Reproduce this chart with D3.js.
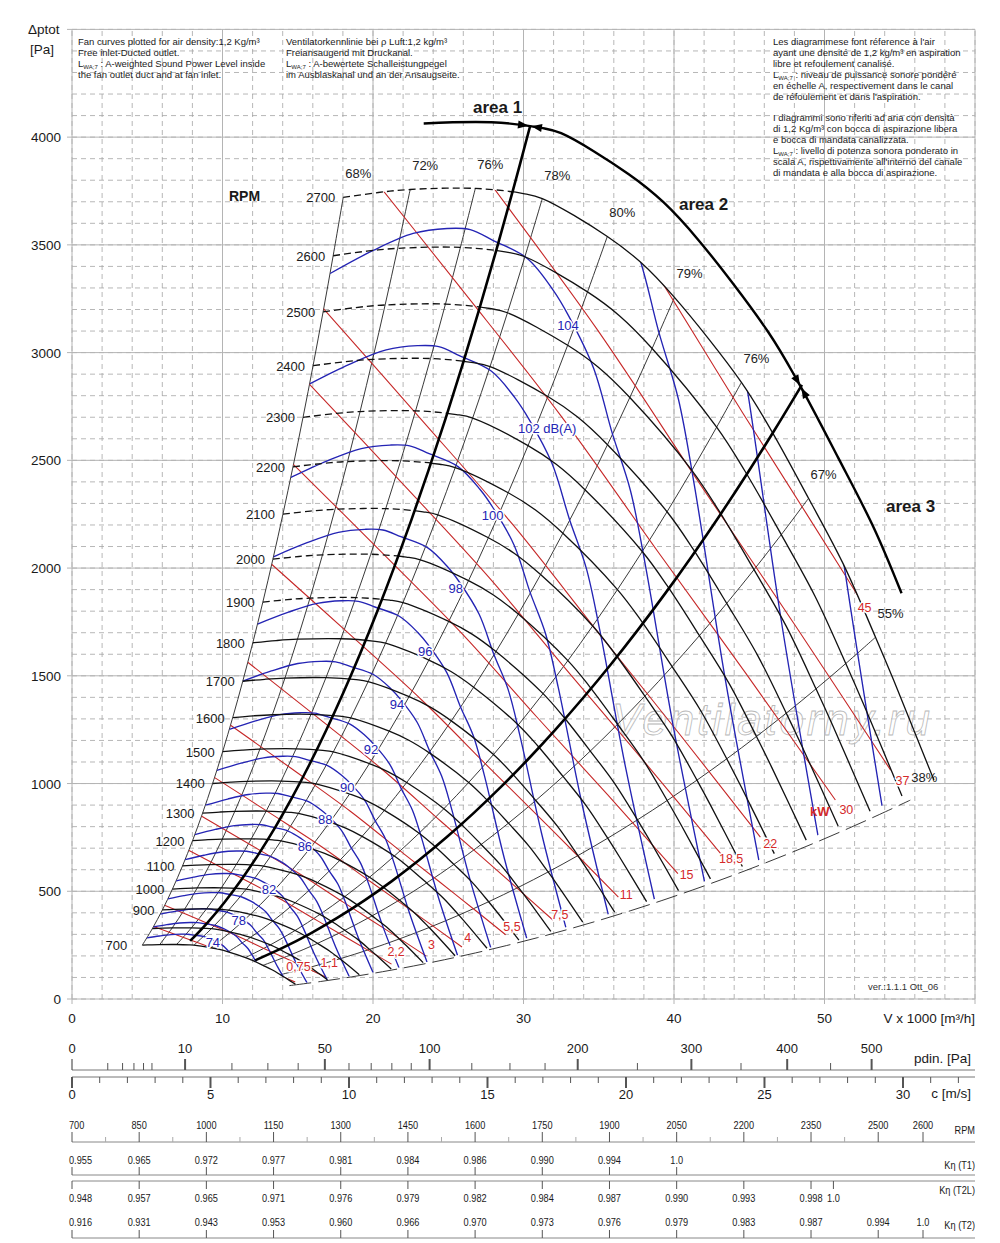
<!DOCTYPE html>
<meta charset="utf-8">
<style>
body { margin: 0; background: #fff; }
svg text { font-family: "Liberation Sans", Arial, sans-serif; fill: #1a1a1a; }
.grid-major { stroke: #b4b4b4; stroke-width: 1; }
.grid-minor { stroke: #a4a4a4; stroke-width: 0.8; stroke-dasharray: 5,4; }
.rpm { fill: none; stroke: #111; stroke-width: 1.3; }
.rpm.dash { stroke-dasharray: 7,4; }
.eff { fill: none; stroke: #222; stroke-width: 0.9; }
.kw { fill: none; stroke: #c62828; stroke-width: 1.1; }
.db { fill: none; stroke: #2424b4; stroke-width: 1.35; }
.thick { fill: none; stroke: #000; stroke-width: 2.6; }
.halo { paint-order: stroke; stroke: #fff; stroke-width: 3px; stroke-linejoin: round; }
.scale line { stroke: #555; }
</style>
<body>
<script src="https://d3js.org/d3.v7.min.js"></script>
<script>
var width = 1000,
    height = 1243;

// fan curve at 2700 rpm: [V x1000 m3/h, Pa]
var curve2700 = [[18.02,3720],[20.35,3743],[22.47,3757],[26.8,3762],[29.99,3738],[31.25,3715],
  [35.57,3539],[37.77,3420],[40.03,3256],[44.48,2862],[46.41,2645],[48.94,2324],
  [51.26,2017],[53.39,1679],[54.59,1480],[57.27,1016]];
var rpmList = [700,800,900,1000,1100,1200,1300,1400,1500,1600,1700,1800,1900,2000,
  2100,2200,2300,2400,2500,2600,2700];
var rpmUnlabelled = [800];
var dashedFromRpm = 1900;

// efficiency lines: flow where each one meets the 2700 rpm curve
var effTopV = [18.02,22.47,26.8,31.25,35.57,40.03,44.48,48.94,53.39];
var effLabels = ["68%","72%","76%","78%","80%","79%","76%","67%","55%"];
var limit38 = [55.7, 923];

// 22 kW line, other kW lines follow it
var kw22 = [[16.69,3205],[23.14,2695],[29.32,2199],[35.11,1688],[40.43,1224],[45.74,751]];
var kwLevels = [0.75,1.1,2.2,3,4,5.5,7.5,11,15,18.5,22,30,37,45];
var kwLabels = ["0,75","1,1","2,2","3","4","5,5","7,5","11","15","18,5","22","30","37","45"];
var kwLabelAt = [46.4, 715];

// 104 dB(A) line
var db104 = [[17.15,3367],[20.01,3474],[22.67,3553],[24.93,3576],[26.46,3571],[27.99,3520],
  [30.25,3437],[31.98,3289],[32.98,3173],[34.64,2931],[35.9,2625],[37.1,2361],
  [38.1,2013],[39.96,1262],[42.09,524]];
var dbLevels = [74,76,78,80,82,84,86,88,90,92,94,96,98,100,102,104,106,108,110];
var dbLabelled = [74,78,82,86,88,90,92,94,96,98,100,102,104];
var dbLabelAt = [32.9, 3126];
var dbStep = 1.086;   // flow ratio between neighbouring 2 dB lines

var area1 = {top: [30.45, 4054], low: 7.85};
var area2 = {top: [48.5, 2850], low: 12.17};
var envelopeRpm = 2808, envelopeFrom = 22.47, envelopeTo = 53.0;

var yTicks = [0,500,1000,1500,2000,2500,3000,3500,4000];
var xTicks = [0,10,20,30,40,50];

var rho = 1.2;
var pdinMajor = [0,10,50,100,200,300,400,500];
var pdinMinor = [1,2,3,4,5,20,30,40,60,70,80,90,125,150,175,250,350,450];
var cMajor = [0,5,10,15,20,25,30];

var tableRpm = [700,850,1000,1150,1300,1450,1600,1750,1900,2050,2200,2350,2500,2600];
var kT1 = ["0.955","0.965","0.972","0.977","0.981","0.984","0.986","0.990","0.994","1.0"];
var kT2LRpm = [700,850,1000,1150,1300,1450,1600,1750,1900,2050,2200,2350,2400];
var kT2L = ["0.948","0.957","0.965","0.971","0.976","0.979","0.982","0.984","0.987","0.990","0.993","0.998","1.0"];
var kT2 = ["0.916","0.931","0.943","0.953","0.960","0.966","0.970","0.973","0.976","0.979","0.983","0.987","0.994","1.0"];

var notesEN = ["Fan curves plotted for air density:1,2 Kg/m³", "Free inlet-Ducted outlet.",
  "§ : A-weighted Sound Power Level inside", "the fan outlet duct and at fan inlet."];
var notesDE = ["Ventilatorkennlinie bei ρ Luft:1,2 kg/m³", "Freiansaugend mit Druckanal.",
  "§ : A-bewertete Schalleistungpegel", "im Ausblaskanal und an der Ansaugseite."];
var notesFRIT = ["Les diagrammese font réference à l'air", "ayant une densité de 1,2 kg/m³ en aspiration",
  "libre et refoulement canalisé.", "§ : niveau de puissance sonore pondéré",
  "en échelle A, respectivement dans le canal", "de réfoulement et dans l'aspiration.", "",
  "I diagrammi sono riferiti ad aria con densità", "di 1,2 Kg/m³ con bocca di aspirazione libera",
  "e bocca di mandata canalizzata.", "§ : livello di potenza sonora ponderato in",
  "scala A, rispettivamente all'interno del canale", "di mandata e alla bocca di aspirazione."];

var svg = d3.select("body").append("svg")
    .attr("width", width)
    .attr("height", height);

var x = d3.scaleLinear().domain([0, 60]).range([72, 975]);
var y = d3.scaleLinear().domain([0, 4500]).range([999, 29.4]);

var smooth = d3.line().x(d => x(d[0])).y(d => y(d[1])).curve(d3.curveCatmullRom.alpha(0.5));
var straight = d3.line().x(d => x(d[0])).y(d => y(d[1]));

function scaled(pts, r) { return pts.map(d => [d[0] * r, d[1] * r * r]); }
function joinPaths(list) {
  return list.map((s, i) => i ? s.replace(/^M/, "L") : s).join("") + "Z";
}
function baseP(v0) {
  for (var i = 0; i < curve2700.length - 1; i++) {
    var a = curve2700[i], b = curve2700[i + 1];
    if (v0 >= a[0] && v0 <= b[0]) return a[1] + (b[1] - a[1]) * (v0 - a[0]) / (b[0] - a[0]);
  }
  return curve2700[curve2700.length - 1][1];
}
// rpm of the fan curve through a point, null when outside the fan's field
var kBase = curve2700.map(d => d[1] / (d[0] * d[0]));
function rpmAt(v, p) {
  var k = p / (v * v);
  for (var i = 0; i < kBase.length - 1; i++) {
    if (k <= kBase[i] && k >= kBase[i + 1]) {
      var t = (kBase[i] - k) / (kBase[i] - kBase[i + 1]);
      var v0 = curve2700[i][0] + t * (curve2700[i + 1][0] - curve2700[i][0]);
      return 2700 * v / v0;
    }
  }
  return null;
}
function inside(d) { var n = rpmAt(d[0], d[1]); return n !== null && n >= 699 && n <= 2701; }
function lastInside(pts) {
  var found = null;
  for (var i = 0; i < pts.length - 1; i++) {
    for (var s = 0; s <= 60; s++) {
      var t = s / 60, q = [pts[i][0] + (pts[i+1][0] - pts[i][0]) * t, pts[i][1] + (pts[i+1][1] - pts[i][1]) * t];
      if (inside(q)) found = q;
    }
  }
  return found;
}

var ratios = rpmList.map(n => n / 2700);
var first = curve2700[0], last = curve2700[curve2700.length - 1];
var k38 = limit38[1] / (limit38[0] * limit38[0]);

// clip paths
var defs = svg.append("defs");
defs.append("clipPath").attr("id", "field").append("path")
  .attr("d", joinPaths([
    smooth(scaled(curve2700, ratios[0])),
    smooth(ratios.map(r => [last[0] * r, last[1] * r * r])),
    smooth(curve2700.slice().reverse()),
    smooth(ratios.slice().reverse().map(r => [first[0] * r, first[1] * r * r]))
  ]));
var k1 = area1.top[1] / (area1.top[0] * area1.top[0]);
var para1 = d3.range(0, 33.01, 0.5).map(v => [v, k1 * v * v]);
defs.append("clipPath").attr("id", "leftA1").append("path")
  .attr("d", joinPaths([straight(para1), straight([[0, 5000]])]));
defs.append("clipPath").attr("id", "rightA1").append("path")
  .attr("d", joinPaths([straight(para1), straight([[80, 5000], [80, 0]])]));

// grid
var grid = svg.append("g");
grid.selectAll(".vmin").data(x.ticks(30)).enter().append("line")
    .attr("class", "grid-minor")
    .attr("x1", x).attr("x2", x).attr("y1", y(0)).attr("y2", y(4500));
grid.selectAll(".hmin").data(y.ticks(45)).enter().append("line")
    .attr("class", "grid-minor")
    .attr("y1", y).attr("y2", y).attr("x1", x(0)).attr("x2", x(60));
grid.selectAll(".vmaj").data(x.ticks(6)).enter().append("line")
    .attr("class", "grid-major")
    .attr("x1", x).attr("x2", x).attr("y1", y(0) + 5).attr("y2", y(4500));
grid.selectAll(".hmaj").data(y.ticks(9)).enter().append("line")
    .attr("class", "grid-major")
    .attr("y1", y).attr("y2", y).attr("x1", x(0) - 5).attr("x2", x(60));

// axis texts
svg.selectAll(".yt").data(yTicks).enter().append("text")
    .attr("x", 61).attr("y", d => y(d) + 5)
    .attr("text-anchor", "end").style("font-size", "13.5px").text(d => d);
svg.selectAll(".xt").data(xTicks).enter().append("text")
    .attr("x", x).attr("y", 1023)
    .attr("text-anchor", "middle").style("font-size", "13.5px").text(d => d);
svg.append("text").attr("x", 975).attr("y", 1023).attr("text-anchor", "end")
    .style("font-size", "13.5px").text("V x 1000 [m³/h]");
svg.append("text").attr("x", 28).attr("y", 34).style("font-size", "13.5px").text("Δptot");
svg.append("text").attr("x", 30).attr("y", 54).style("font-size", "13.5px").text("[Pa]");
svg.append("text").attr("x", 868).attr("y", 990).style("font-size", "9.5px").style("fill", "#333")
    .text("ver.:1.1.1 Ott_06");

// note blocks
function notes(lines, x0) {
  var t = svg.append("g");
  lines.forEach(function(s, i) {
    if (!s) return;
    var txt = t.append("text").attr("x", x0).attr("y", 45 + i * 10.9).style("font-size", "9.5px");
    if (s[0] === "§") {
      txt.append("tspan").text("L");
      txt.append("tspan").attr("dy", 2).style("font-size", "6px").text("WA;7");
      txt.append("tspan").attr("dy", -2).text(s.slice(1));
    } else {
      txt.text(s);
    }
  });
}
notes(notesEN, 78);
notes(notesDE, 286);
notes(notesFRIT, 773);

// watermark
svg.append("text").attr("x", 612).attr("y", 735)
    .style("font-size", "44px").style("font-style", "italic")
    .style("fill", "#fff").style("fill-opacity", 0.45)
    .style("stroke", "#b8b8b8").style("stroke-width", 0.8)
    .attr("textLength", 318)
    .text("Ventilatorny.ru");

// efficiency lines
var effG = svg.append("g");
effTopV.forEach(function(v0, i) {
  var p0 = baseP(v0);
  effG.append("path").attr("class", "eff")
      .attr("d", smooth(ratios.map(r => [v0 * r, p0 * r * r])));
  svg.append("text").attr("x", x(v0) + 15).attr("y", y(p0) - 19)
      .attr("text-anchor", "middle").style("font-size", "13px").style("fill", "#222")
      .text(effLabels[i]);
});
effG.append("path").attr("class", "eff").style("stroke-dasharray", "22,7")
    .attr("d", smooth(ratios.map(r => [limit38[0] * r, limit38[1] * r * r])));
svg.append("text").attr("x", x(limit38[0]) + 14).attr("y", y(limit38[1]) - 18)
    .attr("text-anchor", "middle").style("font-size", "13px").style("fill", "#222").text("38%");

// kW lines
var kwG = svg.append("g").attr("clip-path", "url(#field)");
kwLevels.forEach(function(kw, i) {
  var pts = scaled(kw22, Math.cbrt(kw / 22));
  kwG.append("path").attr("class", "kw").attr("d", smooth(pts));
});

// sound lines
var dbG = svg.append("g").attr("clip-path", "url(#field)");
dbLevels.forEach(function(db) {
  var pts = scaled(db104, Math.pow(dbStep, (db - 104) / 2));
  dbG.append("path").attr("class", "db").attr("d", smooth(pts));
});

// fan curves
var rpmG = svg.append("g");
rpmList.forEach(function(n) {
  var pts = scaled(curve2700, n / 2700);
  if (n >= dashedFromRpm) {
    rpmG.append("path").attr("class", "rpm dash").attr("clip-path", "url(#leftA1)").attr("d", smooth(pts));
    rpmG.append("path").attr("class", "rpm").attr("clip-path", "url(#rightA1)").attr("d", smooth(pts));
  } else {
    rpmG.append("path").attr("class", "rpm").attr("d", smooth(pts));
  }
  if (rpmUnlabelled.indexOf(n) < 0)
    svg.append("text").attr("x", x(pts[0][0]) - (n === 700 ? 15 : 8)).attr("y", y(pts[0][1]) + 5)
        .attr("text-anchor", "end").style("font-size", "13px").text(n);
});

// area boundaries and envelope
function areaPath(a) {
  var k = a.top[1] / (a.top[0] * a.top[0]);
  var pts = d3.range(0, 1.0001, 1 / 20).map(function(t) {
    var v = a.low + (a.top[0] - a.low) * t;
    return [v, k * v * v];
  });
  svg.append("path").attr("class", "thick").attr("d", smooth(pts));
  return k;
}
var kA1 = areaPath(area1), kA2 = areaPath(area2);

var er = envelopeRpm / 2700;
var envPts = curve2700.filter(d => d[0] >= envelopeFrom && d[0] < envelopeTo);
envPts.push([envelopeTo, baseP(envelopeTo)]);
var env = svg.append("path").attr("class", "thick").style("stroke-width", 2.4)
    .attr("d", smooth(scaled(envPts, er)));

function arrows(node, k) {
  var L = node.getTotalLength(), best = 0, bestD = 1e9;
  for (var s = 0; s <= L; s += 0.5) {
    var q = node.getPointAtLength(s);
    var v = x.invert(q.x), p = y.invert(q.y), dd = Math.abs(p - k * v * v);
    if (dd < bestD) { bestD = dd; best = s; }
  }
  [-1, 1].forEach(function(dir) {
    var tip = node.getPointAtLength(best + dir * 1.5),
        back = node.getPointAtLength(best + dir * 12);
    var dx = tip.x - back.x, dy = tip.y - back.y, len = Math.sqrt(dx * dx + dy * dy);
    var nx = -dy / len * 4, ny = dx / len * 4;
    svg.append("path")
        .attr("d", "M" + tip.x + "," + tip.y + "L" + (back.x + nx) + "," + (back.y + ny) +
              "L" + (back.x - nx) + "," + (back.y - ny) + "Z")
        .style("fill", "#000");
  });
}
arrows(env.node(), kA1);
arrows(env.node(), kA2);

// labels inside the field
kwLevels.forEach(function(kw, i) {
  var c = Math.cbrt(kw / 22), lx, ly;
  var vL = kwLabelAt[0] * c, pL = kwLabelAt[1] * c * c;
  if (inside([vL, pL])) {
    lx = x(vL);
    ly = Math.min(y(pL), y(k38 * vL * vL) - 17) + 4;
  } else {
    var end = lastInside(scaled(kw22, c));
    lx = x(end[0]) + 5;
    ly = y(end[1]) + 13;
  }
  svg.append("text").attr("class", "halo")
      .attr("x", lx).attr("y", ly)
      .attr("text-anchor", "middle").style("font-size", "12.5px").style("fill", "#d42a2a")
      .text(kwLabels[i]);
});
dbLabelled.forEach(function(db) {
  var c = Math.pow(dbStep, (db - 104) / 2);
  svg.append("text").attr("class", "halo")
      .attr("x", x(dbLabelAt[0] * c) - 10).attr("y", y(dbLabelAt[1] * c * c) + 5)
      .style("font-size", "13px").style("fill", "#2424b4")
      .text(db === 102 ? "102 dB(A)" : db);
});

svg.append("text").attr("x", 229).attr("y", 201).style("font-size", "14px").style("font-weight", "bold").text("RPM");
svg.append("text").attr("x", 810).attr("y", 816).style("font-size", "13px").style("font-weight", "bold")
    .style("fill", "#d42a2a").text("kW");
[["area 1", 473, 113], ["area 2", 679, 210], ["area 3", 886, 512]].forEach(function(a) {
  svg.append("text").attr("x", a[1]).attr("y", a[2]).style("font-size", "17px")
      .style("font-weight", "bold").text(a[0]);
});

// pdin and c scales
var cScale = d3.scaleLinear().domain([0, 32.6]).range([72, 975]);
var pdScale = d3.scaleSqrt().domain([0, rho / 2 * 32.6 * 32.6]).range([72, 975]);
var sc = svg.append("g").attr("class", "scale");
sc.append("line").attr("x1", 72).attr("x2", 975).attr("y1", 1070).attr("y2", 1070).style("stroke", "#777");
sc.append("line").attr("x1", 72).attr("x2", 975).attr("y1", 1077).attr("y2", 1077).style("stroke", "#777");
sc.selectAll(".pmin").data(pdinMinor).enter().append("line")
    .attr("x1", pdScale).attr("x2", pdScale).attr("y1", 1063).attr("y2", 1070);
sc.selectAll(".pmaj").data(pdinMajor).enter().append("line")
    .attr("x1", pdScale).attr("x2", pdScale).attr("y1", 1059).attr("y2", 1070)
    .style("stroke-width", d => d ? 2 : 1.2);
svg.selectAll(".ptx").data(pdinMajor).enter().append("text")
    .attr("x", pdScale).attr("y", 1053).attr("text-anchor", "middle").style("font-size", "13px").text(d => d);
svg.append("text").attr("x", 971).attr("y", 1063).attr("text-anchor", "end").style("font-size", "13.5px").text("pdin. [Pa]");
sc.selectAll(".cmin").data(d3.range(0, 33)).enter().append("line")
    .attr("x1", cScale).attr("x2", cScale).attr("y1", 1077).attr("y2", 1083);
sc.selectAll(".cmaj").data(cMajor).enter().append("line")
    .attr("x1", cScale).attr("x2", cScale).attr("y1", 1077).attr("y2", 1088).style("stroke-width", 2);
svg.selectAll(".ctx").data(cMajor).enter().append("text")
    .attr("x", cScale).attr("y", 1099).attr("text-anchor", "middle").style("font-size", "13px").text(d => d);
svg.append("text").attr("x", 971).attr("y", 1098).attr("text-anchor", "end").style("font-size", "13.5px").text("c [m/s]");

// rpm / K-eta table
var rs = d3.scaleLinear().domain([700, 2600]).range([72, 923]);
var tb = svg.append("g").attr("class", "scale");
[1142, 1175, 1181, 1238].forEach(function(yy) {
  tb.append("line").attr("x1", 72).attr("x2", 975).attr("y1", yy).attr("y2", yy).style("stroke", "#888");
});
function narrow(xx, yy, s, anchor) {
  svg.append("text").attr("transform", "translate(" + xx + "," + yy + ") scale(0.8,1)")
      .attr("text-anchor", anchor || "middle").style("font-size", "11.5px").text(s);
}
tableRpm.forEach(function(n, i) {
  tb.append("line").attr("x1", rs(n)).attr("x2", rs(n)).attr("y1", 1132).attr("y2", 1142);
  if (i < tableRpm.length - 2)
    tb.append("line").attr("x1", rs(n + 75)).attr("x2", rs(n + 75)).attr("y1", 1137).attr("y2", 1142).style("stroke", "#aaa");
  narrow(i ? rs(n) : rs(n) - 3, 1129, n, i ? "middle" : "start");
});
kT1.forEach(function(s, i) {
  var n = tableRpm[i];
  tb.append("line").attr("x1", rs(n)).attr("x2", rs(n)).attr("y1", 1167).attr("y2", 1175);
  narrow(i ? rs(n) : rs(n) - 3, 1164, s, i ? "middle" : "start");
});
kT2L.forEach(function(s, i) {
  var n = kT2LRpm[i];
  tb.append("line").attr("x1", rs(n)).attr("x2", rs(n)).attr("y1", 1181).attr("y2", 1189);
  narrow(i ? rs(n) : rs(n) - 3, 1202, s, i ? "middle" : "start");
});
kT2.forEach(function(s, i) {
  var n = tableRpm[i];
  tb.append("line").attr("x1", rs(n)).attr("x2", rs(n)).attr("y1", 1230).attr("y2", 1238);
  narrow(i ? rs(n) : rs(n) - 3, 1226, s, i ? "middle" : "start");
});
narrow(975, 1134, "RPM", "end");
narrow(975, 1169, "Kη (T1)", "end");
narrow(975, 1194, "Kη (T2L)", "end");
narrow(975, 1229, "Kη (T2)", "end");
</script>
</body>
